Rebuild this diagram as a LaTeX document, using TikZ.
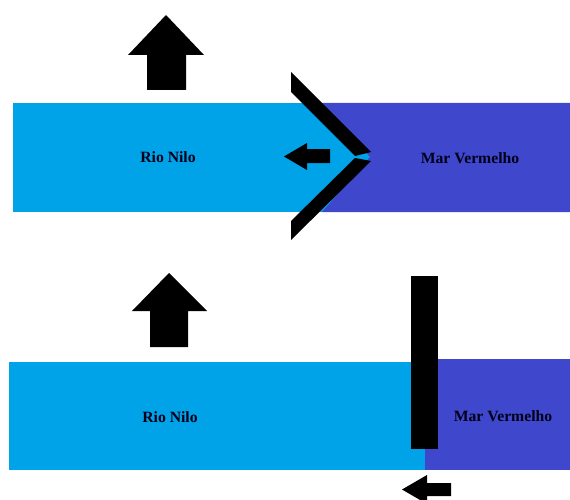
\documentclass[tikz,border=0pt]{standalone}
\usepackage{fontspec}
\setmainfont{Liberation Serif}
\usepackage{tikz}
\definecolor{nile}{HTML}{00A2E8}
\definecolor{redsea}{HTML}{3F48CC}

\begin{document}
\begin{tikzpicture}
  [x=1pt,y=-1pt,
  river/.style={fill=nile},
  sea/.style={fill=redsea},
  wall/.style={fill=black},
  arrowshape/.style={fill=black},
  label/.style={font=\fontsize{15.7}{18}\selectfont\bfseries,text=black!90!blue}]
  \useasboundingbox (0,0) rectangle (570,500);
  \clip (0,0) rectangle (570,500);

  % top: wall opened like a gate
  \fill[river] (13,103) rectangle (371,212);
  \fill[sea] (322,103) -- (570,103) -- (570,212) -- (322,212) -- (370,157) -- cycle;
  \fill[wall] (291,72) -- (371,152) -- (355,156) -- (291,92) -- cycle;
  \fill[wall] (291,240) -- (371,161) -- (355,158) -- (291,221) -- cycle;

  \fill[arrowshape] (166,15) -- (204,55) -- (186,55) -- (186,90) -- (147,90) -- (147,55) -- (128,55) -- cycle;
  \fill[arrowshape] (284,156.5) -- (307,143) -- (307,149) -- (330,149) -- (330,163) -- (307,163) -- (307,170) -- cycle;

  \node[label] (nile1) at (168,157) {Rio Nilo};
  \node[label] (sea1) at (470,158) {Mar Vermelho};

  % bottom: wall closed
  \fill[sea] (425,359) rectangle (570,470);
  \fill[river] (9,362) rectangle (425,470);
  \fill[wall] (411,276) rectangle (438,449);

  \fill[arrowshape] (169,273) -- (207,311) -- (188,311) -- (188,347) -- (150,347) -- (150,311) -- (132,311) -- cycle;
  \fill[arrowshape] (402,489.5) -- (427,475) -- (427,483) -- (451,483) -- (451,496) -- (427,496) -- (427,504) -- cycle;

  \node[label] (nile2) at (170,417) {Rio Nilo};
  \node[label] (sea2) at (503,416) {Mar Vermelho};

\end{tikzpicture}
\end{document}
